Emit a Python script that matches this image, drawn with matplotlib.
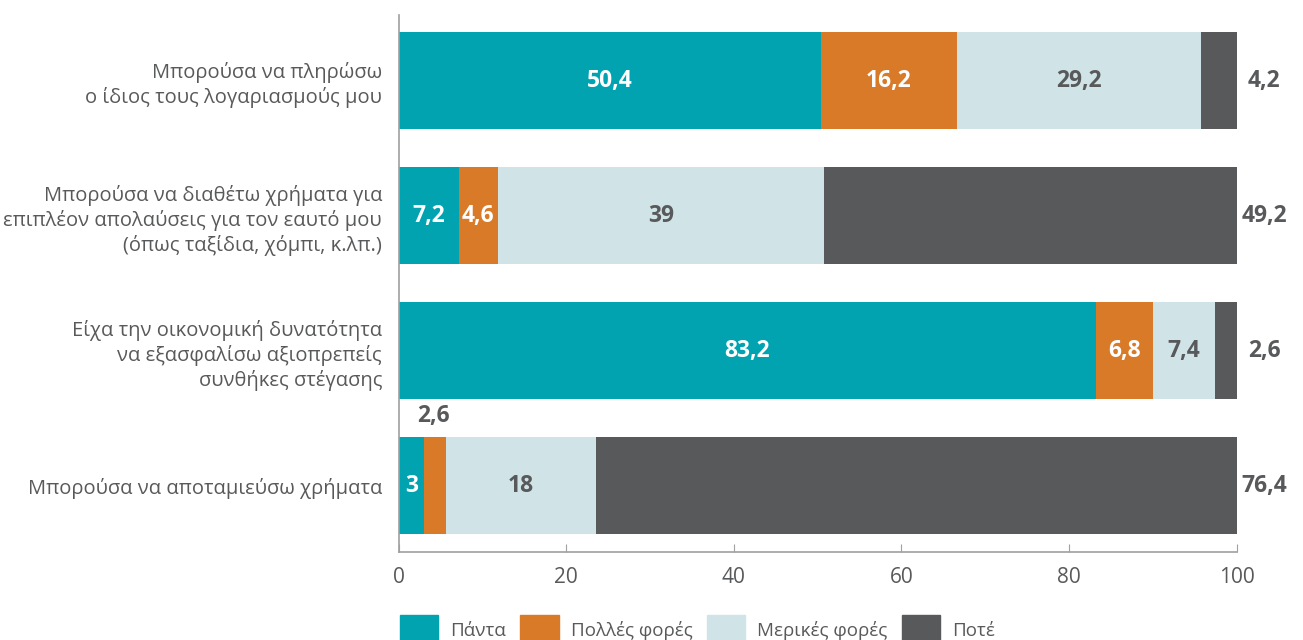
import matplotlib.pyplot as plt
import matplotlib.patches as mpatches
import numpy as np

plt.rcParams['font.family'] = ['Open Sans', 'DejaVu Sans']

# data
categories = [
    'Μπορούσα να πληρώσω\nο ίδιος τους λογαριασμούς μου',
    'Μπορούσα να διαθέτω χρήματα για\nεπιπλέον απολαύσεις για τον εαυτό μου\n(όπως ταξίδια, χόμπι, κ.λπ.)',
    'Είχα την οικονομική δυνατότητα\nνα εξασφαλίσω αξιοπρεπείς\nσυνθήκες στέγασης',
    'Μπορούσα να αποταμιεύσω χρήματα',
]
series = ['Πάντα', 'Πολλές φορές', 'Μερικές φορές', 'Ποτέ']
always = [50.4, 7.2, 83.2, 3]
often = [16.2, 4.6, 6.8, 2.6]
sometimes = [29.2, 39, 7.4, 18]
never = [4.2, 49.2, 2.6, 76.4]

colors = ['#00A3AF', '#D87A28', '#D0E3E7', '#58595B']
text_colors = ['white', 'white', '#58595B', '#58595B']
gray = '#58595B'

fig = plt.figure(figsize=(13.03, 6.4), dpi=100)
ax = fig.add_axes([0.306, 0.1375, 0.643, 0.8395])

y = np.arange(len(categories))
values = [always, often, sometimes, never]
left = np.zeros(len(categories))
for i, (vals, col) in enumerate(zip(values, colors)):
    vals = np.array(vals, dtype=float)
    ax.barh(y, vals, left=left, height=0.72, color=col, label=series[i])
    for j, v in enumerate(vals):
        txt = f'{v:g}'.replace('.', ',')
        if i == 3:
            ax.text(103.3, y[j], txt, ha='center', va='center', fontsize=16.5,
                    fontweight='bold', color=gray, clip_on=False)
        elif v < 3:
            ax.text(left[j] + v / 2 - 0.1, y[j] - 0.52, txt, ha='center', va='center',
                    fontsize=16.5, fontweight='bold', color=gray)
        else:
            ax.text(left[j] + v / 2, y[j], txt, ha='center', va='center',
                    fontsize=16.5, fontweight='bold', color=text_colors[i])
    left += vals

ax.set_xlim(0, 100)
ax.set_ylim(3.49, -0.49)
ax.set_yticks(y)
ax.set_yticklabels(categories, fontsize=14.5, color=gray, linespacing=1.25)
ax.tick_params(axis='y', length=0, pad=12)
ax.set_xticks([0, 20, 40, 60, 80, 100])
ax.tick_params(axis='x', direction='in', length=6, color='#A0A0A0',
               labelsize=15, labelcolor=gray, pad=11)
for s in ['top', 'right']:
    ax.spines[s].set_visible(False)
for s in ['left', 'bottom']:
    ax.spines[s].set_color('#A0A0A0')
    ax.spines[s].set_linewidth(1.2)

handles = [mpatches.Patch(color=c, label=l) for c, l in zip(colors, series)]
fig.legend(handles=handles, loc='lower left', bbox_to_anchor=(0.2995, -0.022),
           ncol=4, frameon=False, fontsize=13.5, handlelength=2.05, handleheight=2.05,
           handletextpad=0.65, columnspacing=0.75, labelcolor=gray, borderpad=0)

fig.savefig('out.png', dpi=100)
